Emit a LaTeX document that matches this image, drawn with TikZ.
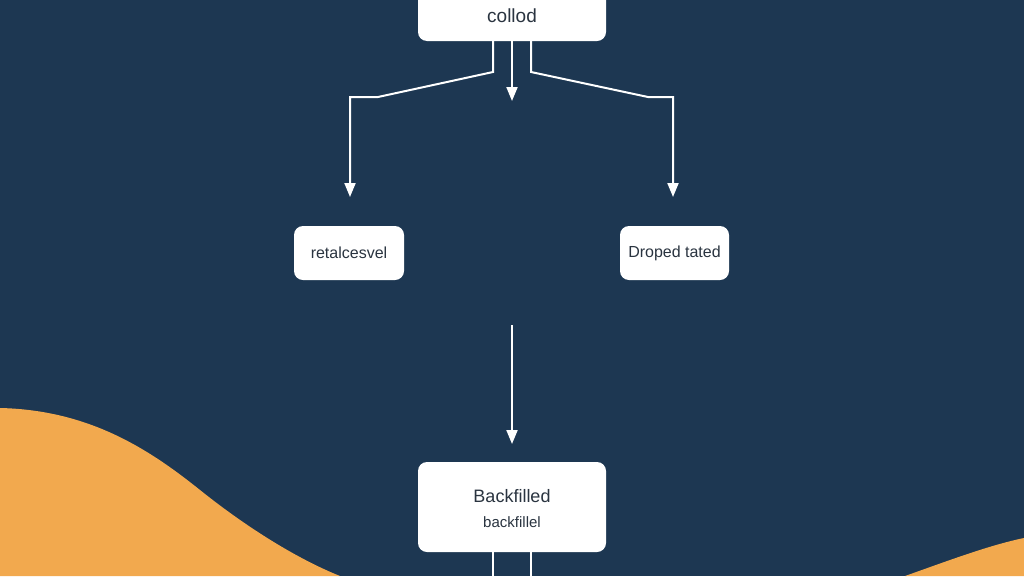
\documentclass[tikz,border=0pt]{standalone}
\usepackage{fontspec}
\setmainfont{Liberation Sans}
\usetikzlibrary{arrows.meta}
\definecolor{bg}{HTML}{1D3752}
\definecolor{org}{HTML}{F2A94E}
\definecolor{txt}{HTML}{2A3440}
\begin{document}
\begin{tikzpicture}[x=1pt,y=-1pt,
  box/.style={draw=none,fill=white,rounded corners=9pt,text=txt,align=center},
  ln/.style={draw=white,line width=2pt},
  arr/.style={ln,-{Triangle[width=11pt,length=14pt]}}]
\useasboundingbox (0,0) rectangle (1024,576);
\fill[bg] (0,0) rectangle (1024,576);
\fill[org] (0,408) .. controls (90,410) and (150,450) .. (200,490) .. controls (250,530) and (300,560) .. (340,576) -- (0,576) -- cycle;
\fill[org] (905,576) .. controls (950,560) and (990,545) .. (1024,538) -- (1024,576) -- cycle;
\node[box,minimum width=188pt,minimum height=51pt,font=\fontsize{19}{22}\selectfont] (top) at (512,15.5) {collod};
\node[box,minimum width=110pt,minimum height=54pt,font=\fontsize{16}{19}\selectfont] (l) at (349,253) {retalcesvel};
\node[box,minimum width=109pt,minimum height=54pt,font=\fontsize{16}{19}\selectfont] (r) at (674.5,253) {Droped tated};
\node[box,minimum width=188pt,minimum height=90pt] (b) at (512,507) {};
\node[text=txt,font=\fontsize{18}{21}\selectfont] (bt) at (512,496) {Backfilled};
\node[text=txt,font=\fontsize{15}{18}\selectfont] (bs) at (512,522) {backfillel};
\coordinate (la) at (493,41); \coordinate (lb) at (493,72); \coordinate (lc) at (378,97); \coordinate (ld) at (350,97); \coordinate (le) at (350,197);
\draw[arr] (la) -- (lb) -- (lc) -- (ld) -- (le);
\coordinate (ra) at (531,41); \coordinate (rb) at (531,72); \coordinate (rc) at (648,97); \coordinate (rd) at (673,97); \coordinate (re) at (673,197);
\draw[arr] (ra) -- (rb) -- (rc) -- (rd) -- (re);
\coordinate (ma) at (512,41); \coordinate (mb) at (512,101);
\draw[arr] (ma) -- (mb);
\coordinate (m2a) at (512,325); \coordinate (m2b) at (512,444);
\draw[arr] (m2a) -- (m2b);
\coordinate (b1) at (493,552); \coordinate (b1e) at (493,576);
\coordinate (b2) at (531,552); \coordinate (b2e) at (531,576);
\draw[ln] (b1) -- (b1e); \draw[ln] (b2) -- (b2e);
\end{tikzpicture}
\end{document}
